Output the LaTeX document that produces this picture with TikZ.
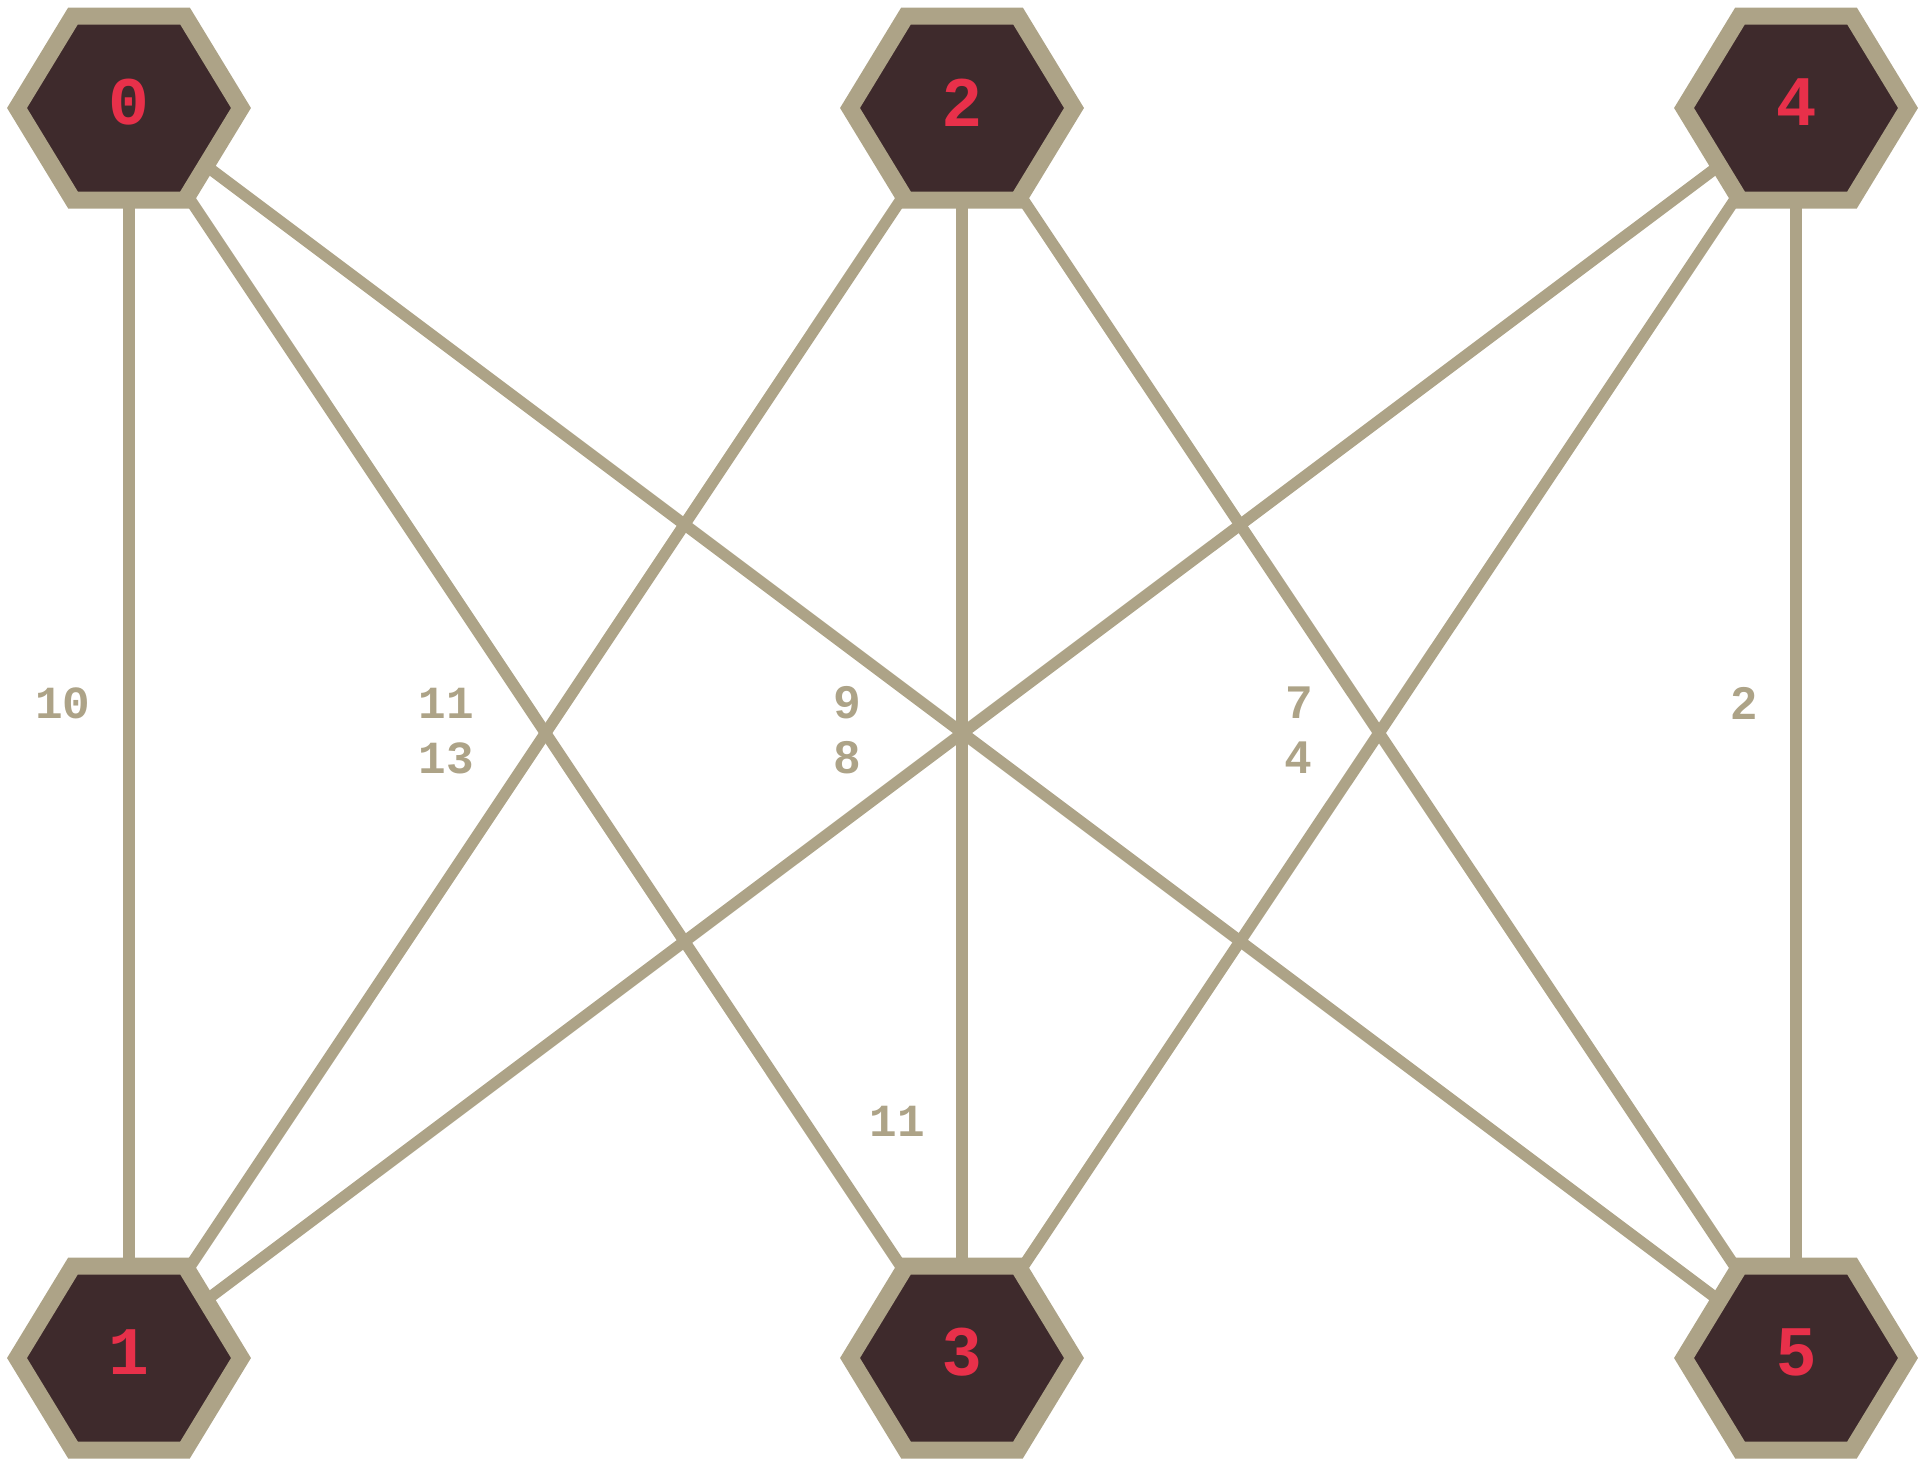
\documentclass[tikz,border=0pt]{standalone}
\usepackage{fontspec}
\newfontfamily\labmono{Liberation Mono}
\newfontfamily\labsans{Liberation Sans}
\usetikzlibrary{backgrounds}
\definecolor{hexfill}{HTML}{3E2A2C}
\definecolor{hexrim}{HTML}{ADA387}
\definecolor{hexred}{HTML}{E8304A}
\begin{document}
\begin{tikzpicture}[x=0.5pt,y=-0.5pt]
  \useasboundingbox (0,0) rectangle (1925,1467);
  % vertices
  \foreach \i/\x/\y/\f in {0/129/108/\labmono, 1/129/1358/\labmono, 2/962/108/\labsans,
                           3/962/1358/\labsans, 4/1796/108/\labsans, 5/1796/1358/\labsans}{
     \draw[hexrim,line width=8.5pt,fill=hexfill] (\x+112,\y) -- (\x+56,\y+92) -- (\x-56,\y+92)
        -- (\x-112,\y) -- (\x-56,\y-92) -- (\x+56,\y-92) -- cycle;
     \coordinate (c\i) at (\x,\y);
     \node[font=\f\bfseries\fontsize{34}{40}\selectfont,text=hexred,inner sep=0pt,yshift=2.75pt] (v\i) at (c\i) {\i};}
  % edges
  \begin{scope}[on background layer]
    \foreach \a in {0,2,4}
      \foreach \b in {1,3,5}
        \draw[hexrim,line width=5.75pt] (c\a) -- (c\b);
  \end{scope}
  % weights
  \foreach \j/\x/\y/\f/\t in {0/63/703/\labmono/10, 1/446/703/\labmono/11, 2/446/758/\labmono/13,
                              3/847/703/\labsans/9, 4/847/758/\labsans/8, 5/1299/703/\labsans/7,
                              6/1298/758/\labsans/4, 7/1744/703/\labsans/2, 8/897/1121/\labmono/11}
     \node[font=\f\bfseries\fontsize{23}{28}\selectfont,text=hexrim,inner sep=0pt] (w\j) at (\x,\y) {\t};
\end{tikzpicture}
\end{document}
